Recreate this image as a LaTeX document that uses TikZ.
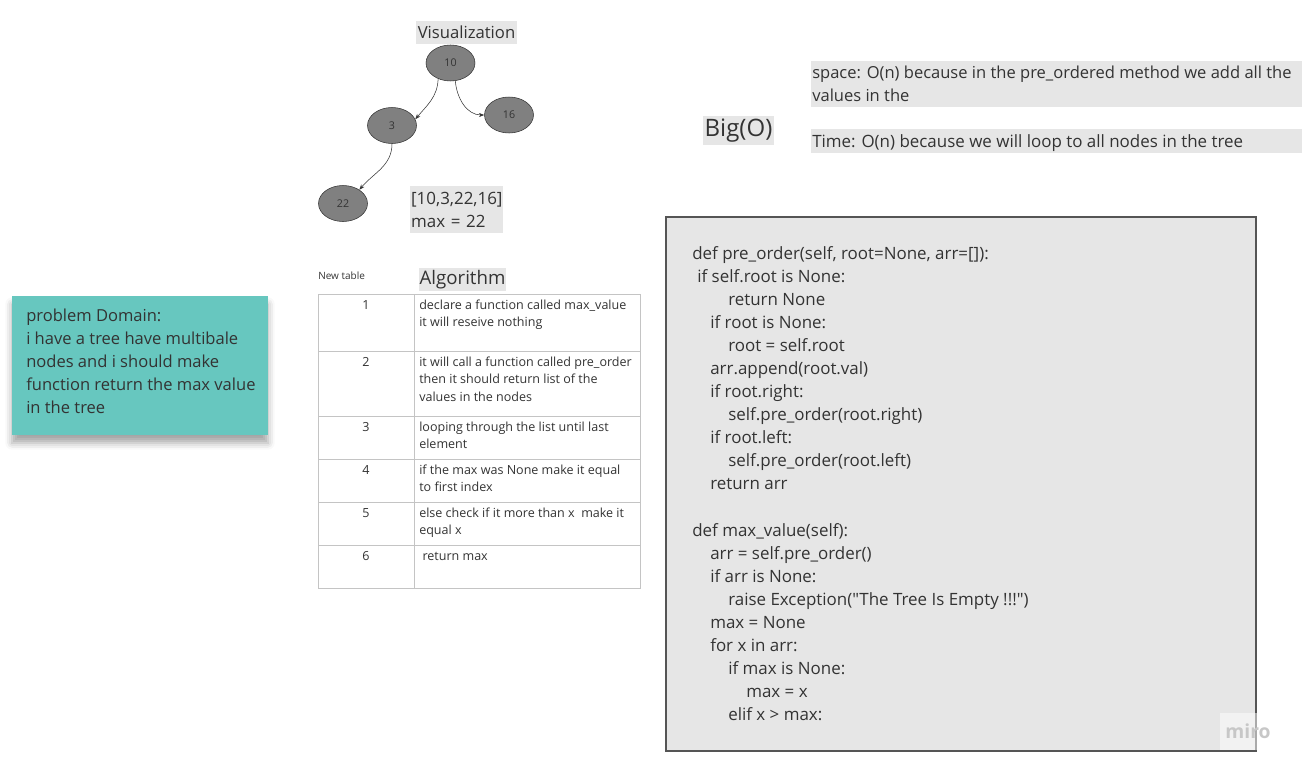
\documentclass[tikz,border=0pt]{standalone}
\usepackage{fontspec}
\setmainfont{Open Sans}[Ligatures=TeXOff]
\usetikzlibrary{shapes.geometric,arrows.meta,shadows.blur}

\definecolor{txtbg}{HTML}{E6E6E6}
\definecolor{txtdark}{HTML}{333333}
\definecolor{treegray}{HTML}{808080}
\definecolor{stickyteal}{HTML}{67C7BF}
\definecolor{tblline}{HTML}{C4C4C4}
\definecolor{codeframe}{HTML}{555555}

\begin{document}
\begin{tikzpicture}[x=0.75pt,y=0.75pt,text=txtdark]

    \tikzset{
      treenode/.style={
        ellipse,
        draw=txtdark,
        fill=treegray,
        minimum width=36.75pt,
        minimum height=27pt,
        inner sep=0pt,
        font=\fontsize{8}{9}\selectfont,
      },
      treeedge/.style={
        draw=txtdark,
        line width=0.4pt,
        -{Stealth[length=4pt,width=3pt]},
      },
      greylabel/.style={
        fill=txtbg,
        inner sep=0pt,
      },
      cellnum/.style={
        anchor=base,
        font=\fontsize{9.4}{13.1}\selectfont,
      },
      celltext/.style={
        anchor=north west,
        align=left,
        inner sep=0pt,
        font=\fontsize{9.4}{13.1}\selectfont,
      },
    }
    \useasboundingbox (0,0) rectangle (1302,-767);

    % tree
    \node[greylabel,minimum width=75.75pt,minimum height=17.25pt,
      font=\fontsize{12.5}{14}\selectfont] (vis) at (466.5,-32.5) {Visualization};
    \node[treenode] (n10) at (450.5,-63) {10};
    \node[treenode] (n16) at (509,-115) {16};
    \node[treenode] (n3) at (392,-125.5) {3};
    \node[treenode] (n22) at (343,-203.5) {22};
    \draw[treeedge] (n10.232) to[out=-92,in=50] (n3.15);
    \draw[treeedge] (n10.285) to[out=-85,in=180] (n16.west);
    \draw[treeedge] (n3.south) to[out=-90,in=50] (n22.40);
    \node[greylabel,minimum width=69.75pt,minimum height=35.25pt,
      text width=68pt,align=left,
      font=\fontsize{12.7}{17.25}\selectfont] (result) at (456.5,-209.5)
      {[10,3,22,16]\\max = 22};

    % algorithm table
    \node[anchor=west,inner sep=0pt,font=\fontsize{7.5}{9}\selectfont] (newtbl) at (318,-276) {New table};
    \node[greylabel,minimum width=65.25pt,minimum height=17.25pt,
      font=\fontsize{14}{16}\selectfont] (algo) at (462.5,-279.5) {Algorithm};
    \draw[tblline,line width=0.6pt] (318,-294) rectangle (640,-588);
    \draw[tblline,line width=0.6pt] (414,-294) -- (414,-588);
    \foreach \y in {351,416,459,502,545}
      \draw[tblline,line width=0.6pt] (318,-\y) -- (640,-\y);
    \foreach \i/\top/\txt in {
        1/294/{declare a function called max\_value\\it will reseive nothing},
        2/351/{it will call a function called pre\_order\\then it should return list of the\\values in the nodes},
        3/416/{looping through the list until last\\element},
        4/459/{if the max was None make it equal\\to first index},
        5/502/{else check if it more than x\ \ make it\\equal x},
        6/545/{\ return max}}
    {
      \node[cellnum] (num\i) at (366,-\top-15) {\i};
      \node[celltext] (step\i) at (419,-\top-5.5) {\vphantom{l}\txt};
    }

    % problem domain sticky
    \fill[stickyteal,blur shadow={shadow xshift=0pt,shadow yshift=-6pt,
      shadow blur radius=5pt,shadow opacity=35}] (12,-296) rectangle (268,-435);
    \node[anchor=north west,inner sep=0pt,align=left,
      font=\fontsize{12.4}{17.1}\selectfont] (domain) at (26,-309)
      {problem Domain:\\i have a tree have multibale\\nodes and i should make\\function return the max value\\in the tree};

    % big O
    \node[greylabel,minimum width=53.25pt,minimum height=21.75pt,
      font=\fontsize{18}{20}\selectfont] (bigo) at (738.5,-130.5) {Big(O)};
    \fill[txtbg] (811,-61) rectangle (1302,-107);
    \node[anchor=north west,inner sep=0pt,align=left,
      font=\fontsize{12.4}{17.25}\selectfont] (space) at (812,-66)
      {space: O(n) because in the pre\_ordered method we add all the\\values in the};
    \fill[txtbg] (811,-129) rectangle (1302,-153);
    \node[anchor=north west,inner sep=0pt,
      font=\fontsize{12.7}{17.25}\selectfont] (time) at (812,-134)
      {Time: O(n) because we will loop to all nodes in the tree};

    % code
    \draw[codeframe,fill=txtbg,line width=0.8pt] (666,-217) rectangle (1256,-751);
    \node[anchor=north west,inner sep=0pt,align=left,
      font=\fontsize{12.7}{17.3}\selectfont] (code) at (692,-246)
      {def pre\_order(self, root=None, arr=[]):\\
       \hspace*{3.75pt}if self.root is None:\\
       \hspace*{27pt}return None\\
       \hspace*{13.5pt}if root is None:\\
       \hspace*{27pt}root = self.root\\
       \hspace*{13.5pt}arr.append(root.val)\\
       \hspace*{13.5pt}if root.right:\\
       \hspace*{27pt}self.pre\_order(root.right)\\
       \hspace*{13.5pt}if root.left:\\
       \hspace*{27pt}self.pre\_order(root.left)\\
       \hspace*{13.5pt}return arr\\
       \mbox{}\\
       def max\_value(self):\\
       \hspace*{13.5pt}arr = self.pre\_order()\\
       \hspace*{13.5pt}if arr is None:\\
       \hspace*{27pt}raise Exception("The Tree Is Empty !!!")\\
       \hspace*{13.5pt}max = None\\
       \hspace*{13.5pt}for x in arr:\\
       \hspace*{27pt}if max is None:\\
       \hspace*{40.5pt}max = x\\
       \hspace*{27pt}elif x > max:};

    % watermark
    \fill[white,opacity=0.5] (1220,-713) rectangle (1302,-750);
    \node[text=black!22,font=\fontsize{14.5}{16}\selectfont\bfseries] (miro) at (1248,-731) {miro};

\end{tikzpicture}
\end{document}
